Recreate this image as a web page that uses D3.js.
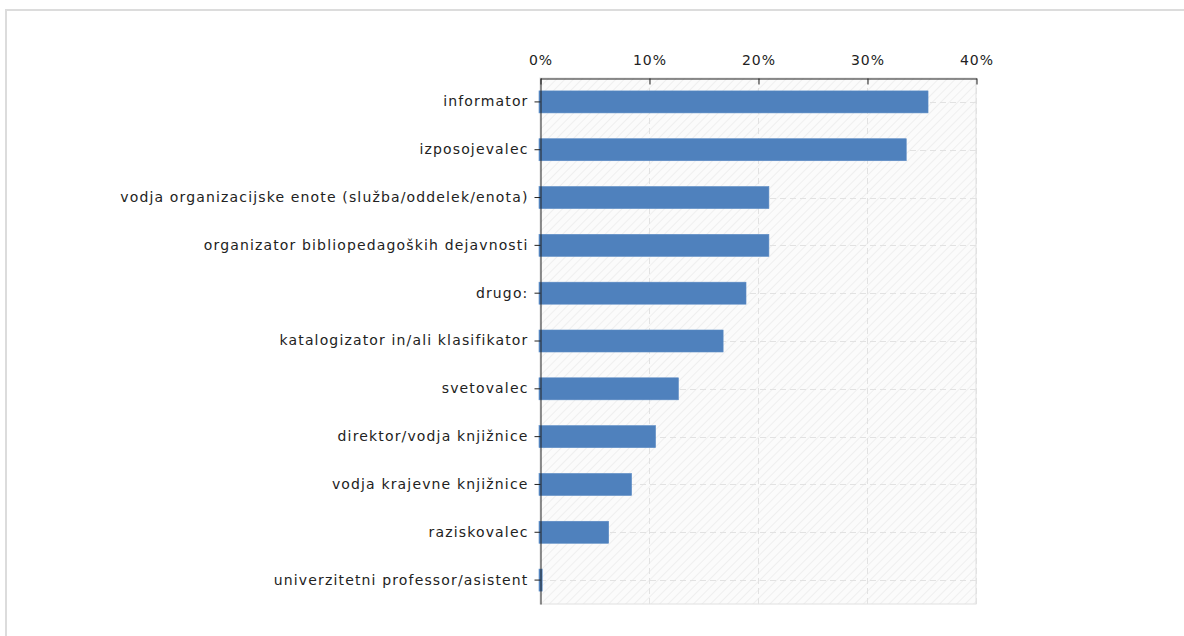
<!DOCTYPE html>
<html>
<head>
<meta charset="utf-8">
<script src="https://cdn.jsdelivr.net/npm/d3@7"></script>
<style>
body { margin: 0; background: #fff; }
svg { display: block; }
text { font-family: "DejaVu Sans", Verdana, sans-serif; fill: #222; }
</style>
</head>
<body>
<script>
// chart data
var categories = [
    "informator",
    "izposojevalec",
    "vodja organizacijske enote (služba/oddelek/enota)",
    "organizator bibliopedagoških dejavnosti",
    "drugo:",
    "katalogizator in/ali klasifikator",
    "svetovalec",
    "direktor/vodja knjižnice",
    "vodja krajevne knjižnice",
    "raziskovalec",
    "univerzitetni professor/asistent"
];
var values = [35.6, 33.6, 21.0, 21.0, 18.9, 16.8, 12.7, 10.6, 8.4, 6.3, 0.2];
var tickValues = [0, 10, 20, 30, 40];

var svgWidth = 1184;
var svgHeight = 636;

var margin = { top: 78, left: 540 };
var chartwidth = 436;
var chartheight = 526;

var svg = d3.select("body")
    .append("svg")
    .attr("width", svgWidth)
    .attr("height", svgHeight);

// outer frame (only top + left visible)
svg.append("path")
    .attr("d", "M6,640 L6,10 L1190,10")
    .attr("fill", "none")
    .attr("stroke", "#dcdcdc")
    .attr("stroke-width", 2);

var defs = svg.append("defs");
var pat = defs.append("pattern")
    .attr("id", "hatch")
    .attr("patternUnits", "userSpaceOnUse")
    .attr("width", 6)
    .attr("height", 6)
    .attr("patternTransform", "rotate(45)");
pat.append("rect").attr("width", 6).attr("height", 6).attr("fill", "#fbfbfb");
pat.append("line")
    .attr("x1", 0).attr("y1", 0).attr("x2", 0).attr("y2", 6)
    .attr("stroke", "#e8e8e8").attr("stroke-width", 1.2);

var chartgroup = svg.append("g")
    .attr("transform", `translate(${margin.left}, ${margin.top})`);

var x = d3.scaleLinear().domain([0, 40]).range([0, chartwidth]);
var y = d3.scaleBand().domain(categories).range([0, chartheight]).paddingInner(0.54).paddingOuter(0.27);

// plot background
chartgroup.append("rect")
    .attr("width", chartwidth)
    .attr("height", chartheight)
    .attr("fill", "url(#hatch)")
    .attr("stroke", "#e0e0e0");

// vertical grid
chartgroup.selectAll(".vgrid")
    .data(tickValues.slice(1))
    .enter()
    .append("line")
    .attr("x1", d => x(d) + 0.5)
    .attr("x2", d => x(d) + 0.5)
    .attr("y1", 0)
    .attr("y2", chartheight)
    .attr("stroke", "#e2e2e2")
    .attr("stroke-dasharray", "6,4");

// horizontal grid at category centres
chartgroup.selectAll(".hgrid")
    .data(categories)
    .enter()
    .append("line")
    .attr("x1", 0)
    .attr("x2", chartwidth)
    .attr("y1", d => Math.round(y(d) + y.bandwidth() / 2) + 0.5)
    .attr("y2", d => Math.round(y(d) + y.bandwidth() / 2) + 0.5)
    .attr("stroke", "#e2e2e2")
    .attr("stroke-dasharray", "6,4");

// bars
chartgroup.selectAll(".bar")
    .data(values)
    .enter()
    .append("rect")
    .attr("x", -1)
    .attr("y", (d, i) => y(categories[i]))
    .attr("width", d => x(d) + 1)
    .attr("height", y.bandwidth())
    .attr("fill", "#4f81bd")
    .attr("stroke", "#5a8ac4")
    .attr("stroke-width", 0.6);

// top axis
var topaxis = d3.axisTop(x)
    .tickValues(tickValues)
    .tickFormat(d => d + "%")
    .tickSizeInner(-6)
    .tickSizeOuter(0)
    .tickPadding(14);

var tg = chartgroup.append("g")
    .attr("transform", "translate(0.5, 0.5)")
    .call(topaxis);
tg.select(".domain").attr("stroke", "#222");
tg.selectAll(".tick line").attr("stroke", "#222");
tg.selectAll("text")
    .style("font-size", "14px")
    .style("letter-spacing", "1px")
    .attr("fill", "#222");

// left axis
var leftaxis = d3.axisLeft(y)
    .tickSizeInner(6)
    .tickSizeOuter(0)
    .tickPadding(6);

var lg = chartgroup.append("g")
    .attr("transform", "translate(0.5, 0)")
    .call(leftaxis);
lg.select(".domain").attr("stroke", "#222");
lg.selectAll(".tick line").attr("stroke", "#222");
lg.selectAll("text")
    .style("font-size", "14px")
    .style("letter-spacing", "1.15px")
    .attr("fill", "#222");
</script>
</body>
</html>
